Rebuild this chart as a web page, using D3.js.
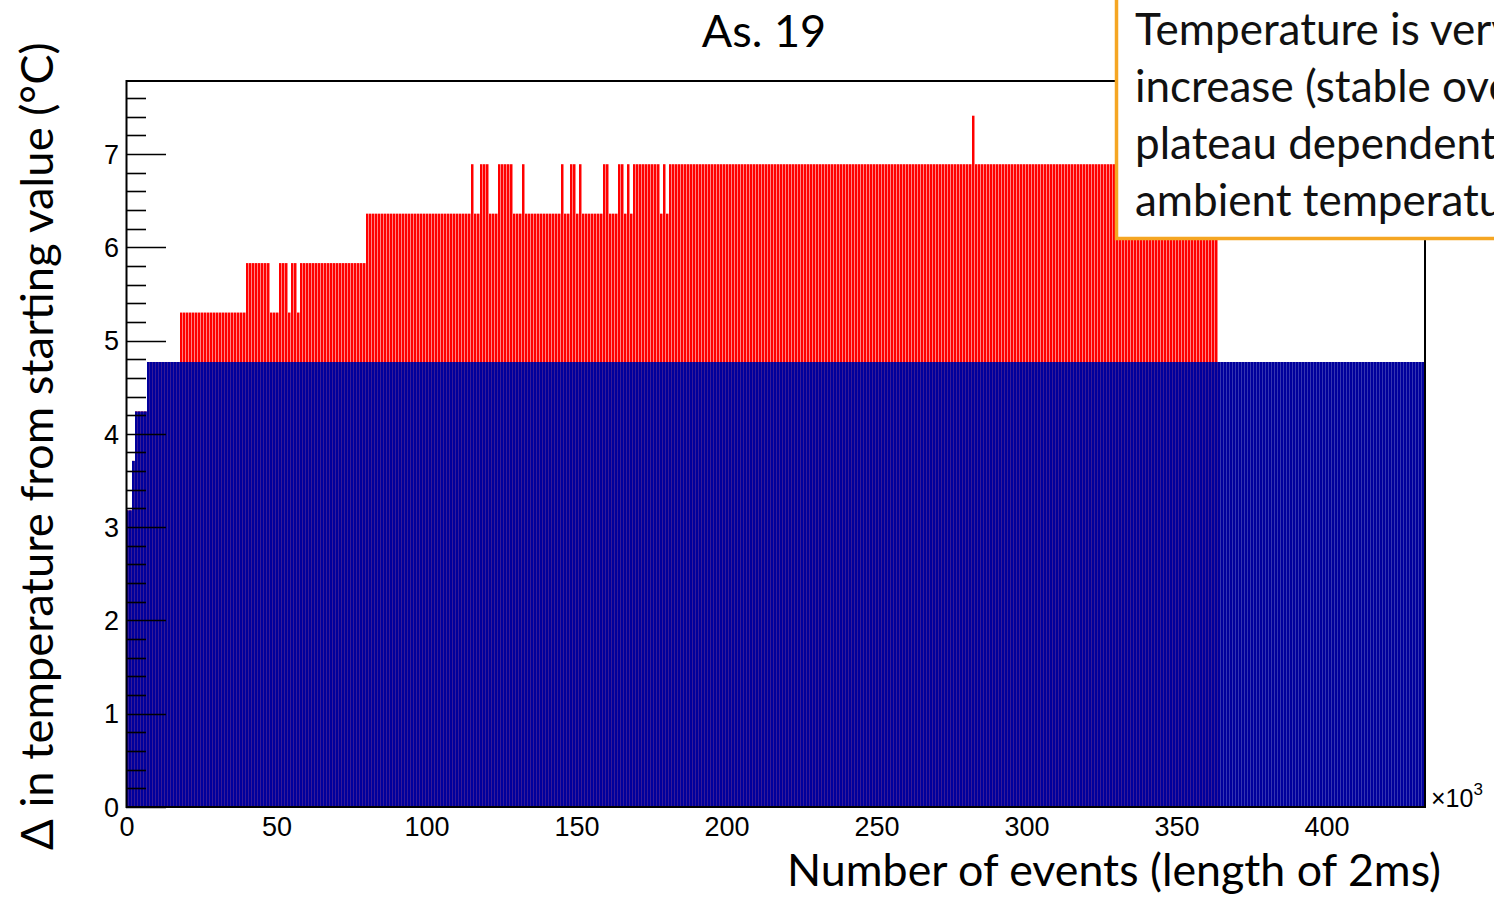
<!DOCTYPE html>
<html>
<head>
<meta charset="utf-8">
<script src="https://cdn.jsdelivr.net/npm/d3@7"></script>
<style>
  html, body { margin: 0; padding: 0; background: #fff; overflow: hidden; }
  #chart { width: 1494px; height: 898px; }
</style>
</head>
<body>
<div id="chart"></div>
<script>
var TEXTFONT = 'Lato';
var TICKFONT = 'Liberation Sans';
var TITLE = 'As. 19';
var XTITLE = 'Number of events (length of 2ms)';
var YTITLE = '\u0394 in temperature from starting value (\u00B0C)';
var NOTE = ['Temperature is very', 'increase (stable over', 'plateau dependent on', 'ambient temperature'];

// histogram in bins of 1k events, stored as runs: first bin of run, value
var NBINS = 433;
var redRunStart = [0, 2, 3, 7, 18, 40, 48, 51, 54, 55, 57, 58, 80, 115, 116, 118, 121, 124, 129, 132, 133,
                   145, 146, 148, 150, 151, 152, 159, 161, 164, 166, 167, 168, 169, 178, 179, 180, 181, 282, 283];
var redRunValue = [3.18, 3.71, 4.24, 4.77, 5.30, 5.83, 5.30, 5.83, 5.30, 5.83, 5.30, 5.83, 6.36, 6.89, 6.36, 6.89, 6.36, 6.89, 6.36, 6.89, 6.36,
                   6.89, 6.36, 6.89, 6.36, 6.89, 6.36, 6.89, 6.36, 6.89, 6.36, 6.89, 6.36, 6.89, 6.36, 6.89, 6.36, 6.89, 7.41, 6.89];
var redEnd = 364;
var blueRunStart = [0, 2, 3, 7];
var blueRunValue = [3.18, 3.71, 4.24, 4.77];
var blueEnd = 433;

var xTicks = [0, 50, 100, 150, 200, 250, 300, 350, 400];
var yTicks = [0, 1, 2, 3, 4, 5, 6, 7];
var Y_MAX = 7.782;

var FRAME = { 'left' : 126, 'right' : 1425, 'top' : 81, 'bottom' : 807 };

/** Expand runs into one entry per bin. */
function expandRuns(starts, values, end) {
    var out = [];
    for (var i = 0; i < starts.length; i += 1) {
        var stop = i + 1 < starts.length ? starts[i + 1] : end;
        for (var b = starts[i]; b < stop; b += 1) {
            out.push({ 'bin' : b, 'y' : values[i] });
        }
    }
    return out;
}

/** Scale a text's font size so it spans the given length. */
function fitText(sel, length) {
    var size = parseFloat(sel.style('font-size'));
    var w = sel.node().getComputedTextLength();
    sel.style('font-size', (size * length / w) + 'px');
}

/** Draw one histogram as thin bars, ROOT style. */
function drawHist(grp, data, xScale, yScale, color, fill) {
    grp.append('g').selectAll('rect').data(data).enter().append('rect')
        .attr('x', function (d) { return xScale(d.bin); })
        .attr('width', function (d) { return (xScale(d.bin + 1) - xScale(d.bin)) * fill; })
        .attr('y', function (d) { return yScale(d.y); })
        .attr('height', function (d) { return yScale(0) - yScale(d.y); })
        .attr('fill', color)
        .attr('shape-rendering', 'geometricPrecision');
}

window.addEventListener('DOMContentLoaded', function () {
    var svg = d3.select('#chart').append('svg').attr('width', 1494).attr('height', 898);
    svg.append('rect').attr('width', 1494).attr('height', 898).attr('fill', '#fff');

    var xScale = d3.scaleLinear().domain([0, NBINS]).range([FRAME.left, FRAME.right]);
    var yScale = d3.scaleLinear().domain([0, Y_MAX]).range([FRAME.bottom, FRAME.top]);

    svg.append('clipPath').attr('id', 'plot-clip').append('rect')
        .attr('x', FRAME.left).attr('y', FRAME.top)
        .attr('width', FRAME.right - FRAME.left).attr('height', FRAME.bottom - FRAME.top);
    var plot = svg.append('g').attr('clip-path', 'url(#plot-clip)');

    drawHist(plot, expandRuns(redRunStart, redRunValue, redEnd), xScale, yScale, '#ff0000', 0.83);
    drawHist(plot, expandRuns(blueRunStart, blueRunValue, blueEnd), xScale, yScale, '#00009c', 0.93);

    // frame
    svg.append('rect').attr('x', FRAME.left + 0.5).attr('y', FRAME.top)
        .attr('width', FRAME.right - FRAME.left - 0.5).attr('height', FRAME.bottom - FRAME.top)
        .attr('fill', 'none').attr('stroke', '#000').attr('stroke-width', 2);

    // y axis ticks: majors every 1, minors every 0.2
    var minor = d3.range(0, Y_MAX, 0.2);
    svg.append('g').selectAll('line').data(minor).enter().append('line')
        .attr('x1', FRAME.left).attr('x2', function (d) {
            return Math.abs(d - Math.round(d)) < 1e-6 ? FRAME.left + 40 : FRAME.left + 20;
        })
        .attr('y1', function (d) { return Math.round(yScale(d)) + 0.5; })
        .attr('y2', function (d) { return Math.round(yScale(d)) + 0.5; })
        .attr('stroke', '#000').attr('stroke-width', 1.6);

    svg.append('g').selectAll('text').data(yTicks).enter().append('text')
        .attr('x', 119).attr('y', function (d) { return yScale(d); })
        .attr('dy', '0.36em').attr('text-anchor', 'end')
        .style('font-family', TICKFONT).style('font-size', '27px')
        .text(function (d) { return d; });

    svg.append('g').selectAll('text').data(xTicks).enter().append('text')
        .attr('x', function (d) { return xScale(d) + 1; }).attr('y', 836)
        .attr('text-anchor', 'middle')
        .style('font-family', TICKFONT).style('font-size', '27px')
        .text(function (d) { return d; });

    var exp = svg.append('text').attr('x', 1431).attr('y', 807)
        .style('font-family', TICKFONT).style('font-size', '25px');
    exp.append('tspan').text('\u00D710');
    exp.append('tspan').attr('dy', -12).style('font-size', '17px').text('3');

    // titles
    svg.append('text').attr('x', 764).attr('y', 47).attr('text-anchor', 'middle')
        .style('font-family', TEXTFONT).style('font-size', '45px').text(TITLE);

    var xt = svg.append('text').attr('x', 1441).attr('y', 886).attr('text-anchor', 'end')
        .style('font-family', TEXTFONT).style('font-size', '44px').text(XTITLE);
    fitText(xt, 654);

    var yt = svg.append('text').attr('transform', 'translate(53, 850) rotate(-90)')
        .attr('text-anchor', 'start')
        .style('font-family', TEXTFONT).style('font-size', '44px').text(YTITLE);
    fitText(yt, 808);

    // annotation box, runs off the page edge
    var note = svg.append('g');
    note.append('rect').attr('x', 1116.5).attr('y', -20).attr('width', 500).attr('height', 258.5)
        .attr('fill', '#fff').attr('stroke', '#f5a623').attr('stroke-width', 3.5);
    note.selectAll('text').data(NOTE).enter().append('text')
        .attr('x', 1135).attr('y', function (d, i) { return 45 + i * 57; })
        .style('font-family', TEXTFONT).style('font-size', '44px').attr('fill', '#111')
        .text(function (d) { return d; });
});
</script>
</body>
</html>
